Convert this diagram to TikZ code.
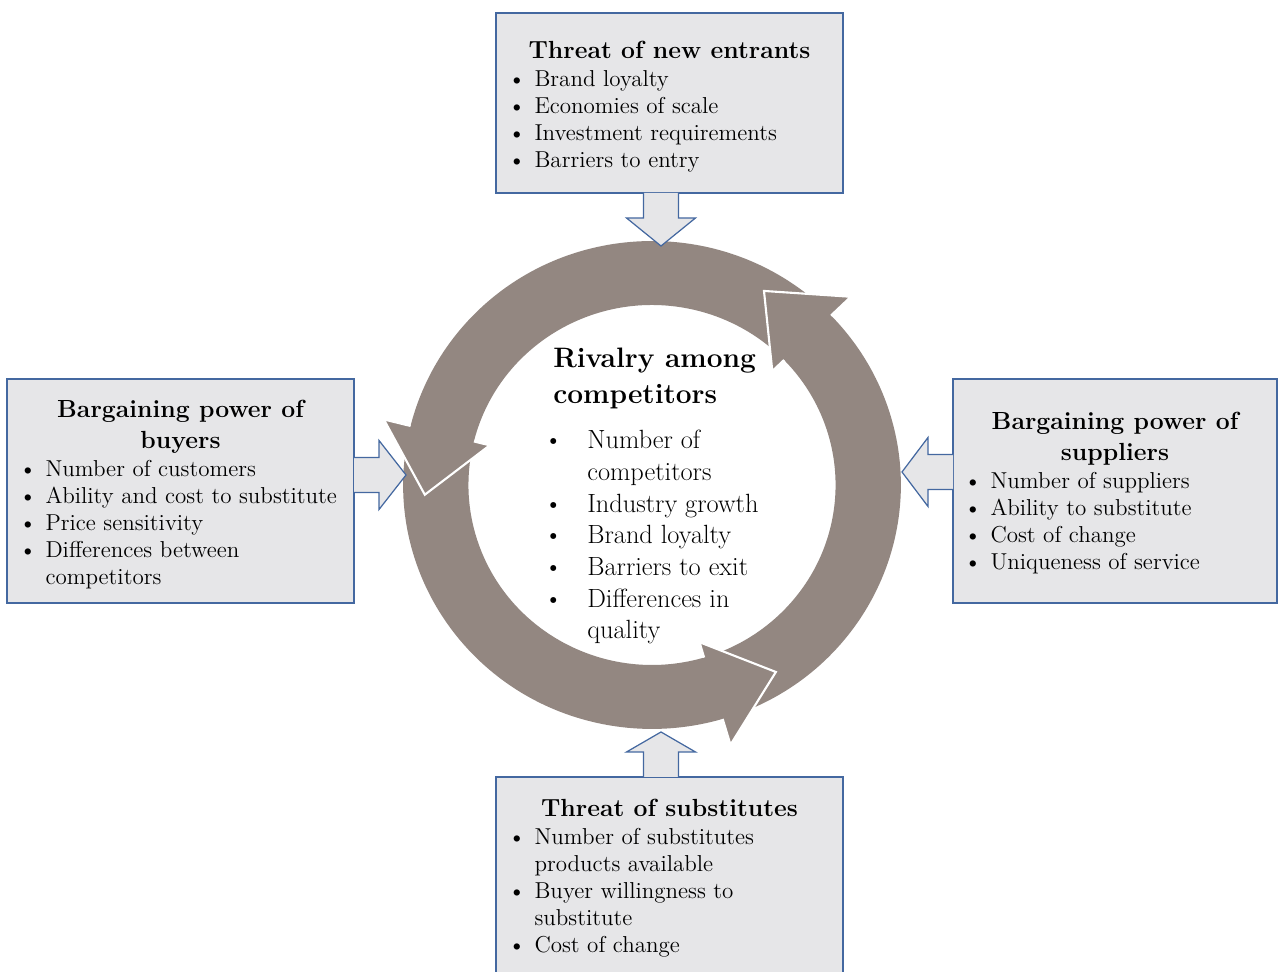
\documentclass[tikz,border=0pt]{standalone}
\usepackage{fontspec}
\definecolor{ringgray}{RGB}{147,135,129}
\definecolor{boxfill}{RGB}{230,230,232}
\definecolor{boxline}{RGB}{68,104,160}
\newcommand{\btitle}[1]{\multicolumn{2}{@{}c@{}}{\fontsize{14.1}{17.6}\selectfont\bfseries #1}}
\tikzset{
  forcebox/.style={draw=boxline, fill=boxfill, line width=0.8pt, inner sep=0pt},
  forcetext/.style={inner sep=0pt, font=\fontsize{13.1}{15.4}\selectfont},
  blockarr/.style={draw=boxline, fill=boxfill, line width=0.7pt},
  ringhead/.style={fill=ringgray, draw=white, line width=1.2pt},
}

\begin{document}
\begin{tikzpicture}[x=0.02cm, y=0.02cm]
  \useasboundingbox (0,0) rectangle (1278,972);
  \clip (0,0) rectangle (1278,972);
  % the ring of three arrows
  \begin{scope}[shift={(652,487)}, xscale=1.02]
    \foreach \t/\b in {47/166, 169/286.5, -70.5/44}
      \fill[ringgray] (\t:4.88cm) arc[start angle=\t, end angle=\b+1, radius=4.88cm]
        -- ({\b+1}:3.6cm) arc[start angle=\b+1, end angle=\t, radius=3.6cm] -- cycle;
    \foreach \b in {166, 286.5, 44}
      \filldraw[ringhead] (\b:4.88cm) -- (\b:5.42cm) -- ({\b+16.5}:4.46cm)
        -- (\b:3.28cm) -- (\b:3.6cm);
  \end{scope}
  \node[anchor=base west, inner sep=0pt, font=\fontsize{16}{20.5}\selectfont\bfseries]
    (rivalry) at (553,604)
    {\begin{tabular}[t]{@{}l@{}}Rivalry among\\competitors\end{tabular}};
  \node[anchor=base west, inner sep=0pt, font=\fontsize{15}{18}\selectfont]
    (rivlist) at (543.5,523)
    {\begin{tabular}[t]{@{}p{0.87cm}@{}l@{}}
     \textbullet & Number of\\ & competitors\\
     \textbullet & Industry growth\\
     \textbullet & Brand loyalty\\
     \textbullet & Barriers to exit\\
     \textbullet & Differences in\\ & quality
     \end{tabular}};
  % the four forces
  \node[forcebox, minimum width=6.94cm, minimum height=3.6cm] (entrants) at (669.5,869) {};
  \node[forcetext] (entrantstxt) at ([yshift=-0.09cm]entrants.center)
    {\begin{tabular}{@{}p{0.53cm}@{}p{5.93cm}@{}}
     \btitle{Threat of new entrants}\\[0.5pt]
     \textbullet & Brand loyalty\\
     \textbullet & Economies of scale\\
     \textbullet & Investment requirements\\
     \textbullet & Barriers to entry
     \end{tabular}};
  \node[forcebox, minimum width=6.94cm, minimum height=4.48cm] (buyers) at (180.5,481) {};
  \node[forcetext] (buyerstxt) at ([yshift=-0.09cm]buyers.center)
    {\begin{tabular}{@{}p{0.53cm}@{}p{5.93cm}@{}}
     \btitle{Bargaining power of}\\[2.2pt]
     \btitle{buyers}\\[0.5pt]
     \textbullet & Number of customers\\
     \textbullet & Ability and cost to substitute\\
     \textbullet & Price sensitivity\\
     \textbullet & Differences between\\
     & competitors
     \end{tabular}};
  \node[forcebox, minimum width=6.48cm, minimum height=4.48cm] (suppliers) at (1115,481) {};
  \node[forcetext] (supplierstxt) at ([yshift=-0.07cm]suppliers.center)
    {\begin{tabular}{@{}p{0.53cm}@{}p{5.51cm}@{}}
     \btitle{Bargaining power of}\\[2.2pt]
     \btitle{suppliers}\\[0.5pt]
     \textbullet & Number of suppliers\\
     \textbullet & Ability to substitute\\
     \textbullet & Cost of change\\
     \textbullet & Uniqueness of service
     \end{tabular}};
  \node[forcebox, minimum width=6.94cm, minimum height=3.92cm] (substitutes) at (669.5,97) {};
  \node[forcetext] (substitutestxt) at ([yshift=-0.08cm]substitutes.center)
    {\begin{tabular}{@{}p{0.53cm}@{}p{5.93cm}@{}}
     \btitle{Threat of substitutes}\\[0.5pt]
     \textbullet & Number of substitutes\\
     & products available\\
     \textbullet & Buyer willingness to\\
     & substitute\\
     \textbullet & Cost of change
     \end{tabular}};
  % block arrows into the ring
  \coordinate (entrin) at (661,779);
  \coordinate (subsin) at (661,195);
  \coordinate (buyin) at (354,497);
  \coordinate (suppin) at (953,500);
  \foreach \c/\a/\l in {entrin/-90/53, subsin/90/45, buyin/0/52, suppin/180/51}
    \draw[blockarr, shift={(\c)}, rotate=\a] (0,-17.5) -- (25,-17.5) -- (25,-34.5)
      -- (\l,0) -- (25,34.5) -- (25,17.5) -- (0,17.5);
\end{tikzpicture}
\end{document}
